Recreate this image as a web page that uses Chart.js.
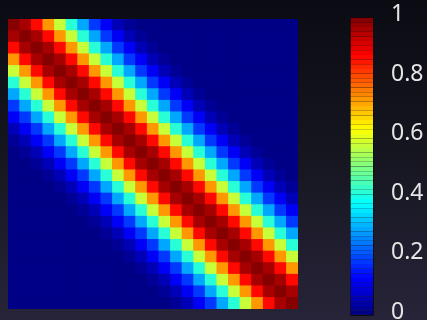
<!DOCTYPE html>
<html>
<head>
<meta charset="utf-8">
<script src="https://cdn.jsdelivr.net/npm/chart.js@4/dist/chart.umd.min.js"></script>
<style>
  html, body {
    margin: 0;
    padding: 0;
    width: 427px;
    height: 320px;
    overflow: hidden;
    background: linear-gradient(to bottom, #0a0b13 0%, #15151f 45%, #272439 100%);
  }
  #heatWrap { position: absolute; left: 8px; top: 19px; width: 290px; height: 290px; }
  #barWrap { position: absolute; left: 350px; top: -14px; width: 77px; height: 361px; }
</style>
</head>
<body>
<div id="heatWrap"><canvas id="heatmap"></canvas></div>
<div id="barWrap"><canvas id="colorbar"></canvas></div>
<script>
// matrix size (rows x columns)
const size = 25;
const columnLabels = Array.from({ length: size }, (_, i) => String(i + 1));

// value read per distance from the diagonal (0 = diagonal)
const bandValues = [1.0, 0.966, 0.87, 0.73, 0.57, 0.42, 0.29, 0.18, 0.11, 0.06, 0.03, 0.015, 0.007];

// colorbar tick labels
const colorbarTicks = [0, 0.2, 0.4, 0.6, 0.8, 1];
const colorLevels = 64;

function cellValue(row, col) {
  const d = Math.abs(row - col);
  return d < bandValues.length ? bandValues[d] : 0;
}

function jet(v) {
  // 64-level jet colormap
  const idx = Math.min(colorLevels - 1, Math.floor(v * colorLevels));
  const t = (idx + 0.5) / colorLevels;
  const c = (x) => Math.round(255 * Math.max(0, Math.min(1, x)));
  const r = c(Math.min(4 * t - 1.5, -4 * t + 4.5));
  const g = c(Math.min(4 * t - 0.5, -4 * t + 3.5));
  const b = c(Math.min(4 * t + 0.5, -4 * t + 2.5));
  return `rgb(${r}, ${g}, ${b})`;
}

// heatmap: each row is a stacked bar dataset, bottom row first
const heatDatasets = [];
for (let k = 0; k < size; k++) {
  const row = size - 1 - k;
  heatDatasets.push({
    label: `row ${row + 1}`,
    data: columnLabels.map(() => 1),
    backgroundColor: columnLabels.map((_, col) => jet(cellValue(row, col))),
    borderWidth: 0,
    categoryPercentage: 1,
    barPercentage: 1,
  });
}

new Chart(document.getElementById("heatmap"), {
  type: "bar",
  data: { labels: columnLabels, datasets: heatDatasets },
  options: {
    responsive: true,
    maintainAspectRatio: false,
    animation: false,
    layout: { padding: 0 },
    plugins: { legend: { display: false }, tooltip: { enabled: false } },
    scales: {
      x: { stacked: true, display: false, offset: true },
      y: { stacked: true, display: false, min: 0, max: size },
    },
  },
});

// colorbar: stacked segments of the colormap
const barDatasets = [];
for (let i = 0; i < colorLevels; i++) {
  barDatasets.push({
    data: [1 / colorLevels],
    backgroundColor: jet((i + 0.5) / colorLevels),
    borderColor: "rgba(0, 0, 0, 0.55)",
    borderWidth: { left: 1, right: 0, top: 0, bottom: 0 },
    borderSkipped: false,
    categoryPercentage: 1,
    barPercentage: 1,
  });
}

new Chart(document.getElementById("colorbar"), {
  type: "bar",
  data: { labels: [""], datasets: barDatasets },
  options: {
    responsive: true,
    maintainAspectRatio: false,
    animation: false,
    layout: { padding: 0 },
    plugins: { legend: { display: false }, tooltip: { enabled: false } },
    scales: {
      x: { stacked: true, display: false },
      y: {
        stacked: true,
        position: "right",
        min: 0,
        max: 1,
        z: 1,
        afterFit: (scale) => { scale.width = 54; },
        afterBuildTicks: (scale) => {
          scale.ticks = colorbarTicks.map((v) => ({ value: v }));
        },
        grid: { color: "rgba(10, 10, 10, 0.85)", lineWidth: 1, drawTicks: false },
        border: { display: true, color: "rgba(10, 10, 10, 0.85)" },
        ticks: {
          color: "#e6e6e6",
          padding: 18,
          labelOffset: -3,
          font: { family: "'Noto Sans', sans-serif", size: 23 },
          callback: (v) => String(v),
        },
      },
    },
  },
});
</script>
</body>
</html>
